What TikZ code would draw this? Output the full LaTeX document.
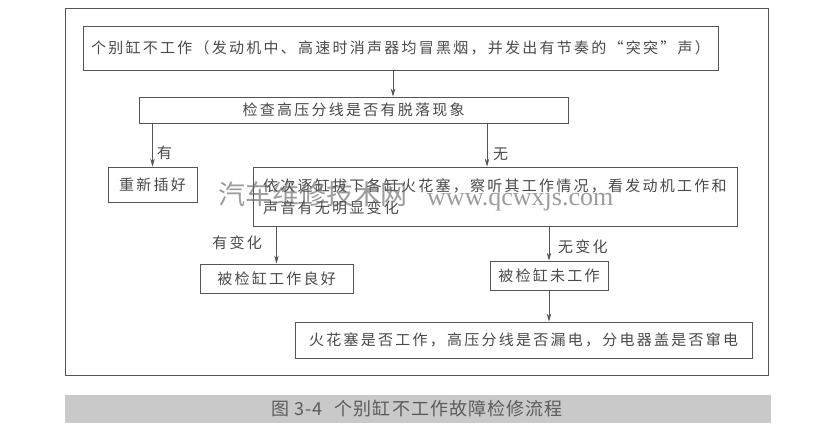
\documentclass[tikz,border=0pt]{standalone}
\usepackage{fontspec}
\setmainfont{Noto Sans CJK SC}[LetterSpace=15]
\newfontfamily\capfont{Noto Sans CJK SC}[LetterSpace=6]
\newfontfamily\markfont{Noto Sans CJK SC}
\newfontfamily\markserif{Liberation Serif}
\usetikzlibrary{arrows.meta}
\definecolor{inkgray}{HTML}{4A4A4A}
\definecolor{linegray}{HTML}{555555}
\definecolor{bandgray}{HTML}{C9C9C9}
\definecolor{capgray}{HTML}{5C5C5C}
\definecolor{markgray}{HTML}{5A5A5A}

\tikzset{box/.style={draw=linegray, line width=0.8pt, inner sep=0pt, text=inkgray,
    font=\fontsize{15pt}{22pt}\selectfont},
  flow/.style={draw=linegray, line width=0.7pt, -{Stealth[length=8pt,width=4.5pt]}},
  tag/.style={inner sep=0pt, text=inkgray, font=\fontsize{15pt}{18pt}\selectfont},
  wmark/.style={inner sep=0pt, text=markgray, text opacity=0.6}}

\begin{document}
\begin{tikzpicture}[x=1pt, y=-1pt]
\useasboundingbox[fill=white] (0,0) rectangle (829,433);
\draw[linegray, line width=0.8pt] (65,8) rectangle (768,375);

\node[box, minimum width=635pt, minimum height=44pt] (top) at (400.5,48) {个别缸不工作（发动机中、高速时消声器均冒黑烟，并发出有节奏的“突突”声）};
\node[box, minimum width=429pt, minimum height=26pt] (chk) at (353.5,110) {检查高压分线是否有脱落现象};
\node[box, minimum width=89pt, minimum height=35pt] (fix) at (152.5,184.5) {重新插好};
\node[box, minimum width=484pt, minimum height=59pt, align=left, text width=464pt] (test) at (495,196.5) {依次逐缸拔下各缸火花塞，察听其工作情况，看发动机工作和\\声音有无明显变化};
\node[box, minimum width=153pt, minimum height=29pt] (good) at (276.5,278.5) {被检缸工作良好};
\node[box, minimum width=118pt, minimum height=29pt] (dead) at (549,275.5) {被检缸未工作};
\node[box, minimum width=457pt, minimum height=36pt] (plug) at (523.5,340) {火花塞是否工作，高压分线是否漏电，分电器盖是否窜电};

\draw[flow] ([xshift=-7.5pt]top.south) -- ([xshift=-7.5pt]top.south |- chk.north);
\draw[flow] (chk.south -| fix.north) -- (fix.north);
\draw[flow] ([xshift=-8pt]test.north |- chk.south) -- ([xshift=-8pt]test.north);
\draw[flow] (test.south -| good.north) -- (good.north);
\draw[flow] (test.south -| dead.north) -- (dead.north);
\draw[flow] (dead.south) -- (dead.south |- plug.north);

\node[tag, anchor=west] (yes) at (157,153) {有};
\node[tag, anchor=west] (no) at (493,154) {无};
\node[tag, anchor=east] (chg) at (262,243) {有变化};
\node[tag, anchor=west] (nochg) at (558,247) {无变化};

\node[wmark, anchor=west, font=\markfont\fontsize{27pt}{30pt}\selectfont] (wmcn) at (218,194) {汽车维修技术网};
\node[wmark, anchor=base west, font=\markserif\fontsize{26pt}{30pt}\selectfont] (wmen) at (427,205) {www.qcwxjs.com};

\fill[bandgray] (65,395) rectangle (771,423);
\node[inner sep=0pt, text=capgray, font=\capfont\fontsize{18pt}{20pt}\selectfont] (cap) at (417,409) {图 3-4\hspace{12pt}个别缸不工作故障检修流程};
\end{tikzpicture}
\end{document}
